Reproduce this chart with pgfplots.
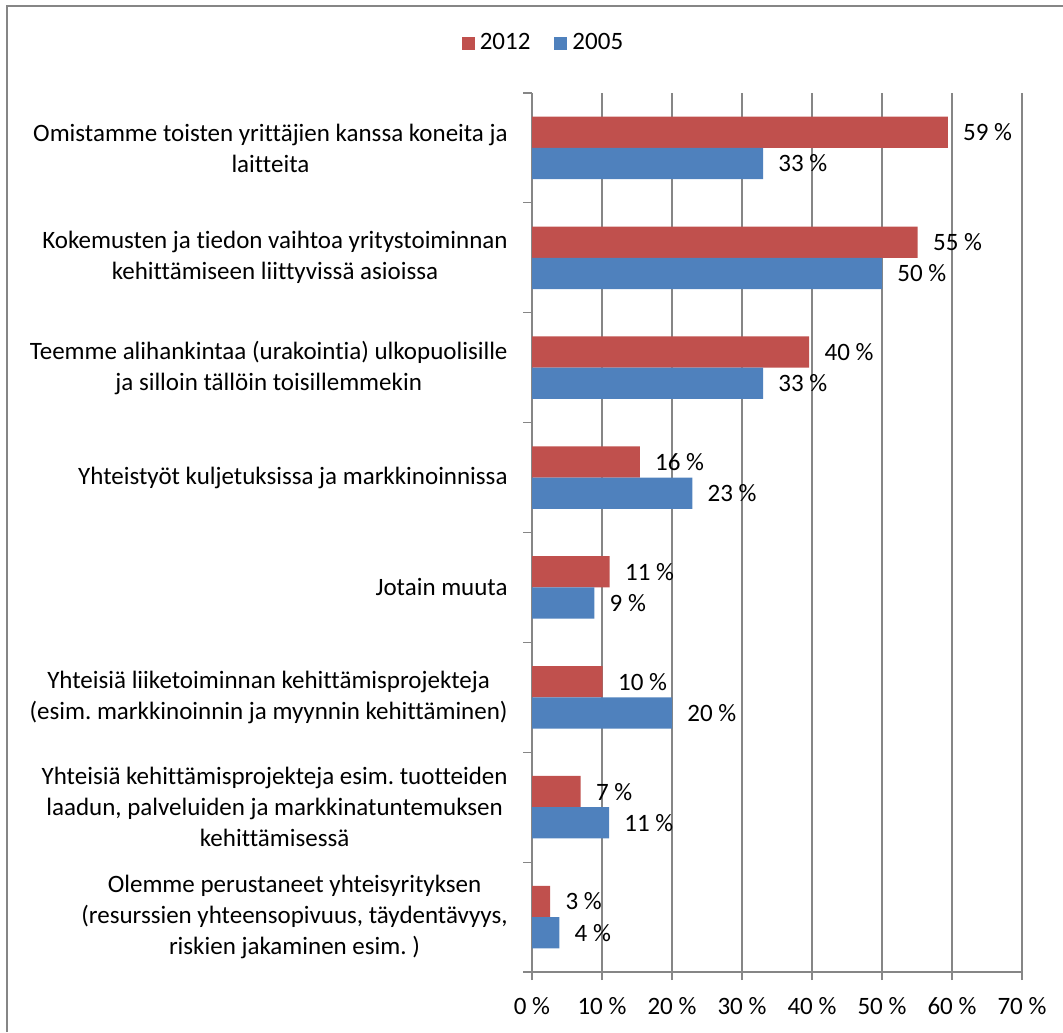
\documentclass[border=0pt]{standalone}
\usepackage{fontspec}
\setmainfont{Carlito}[Ligatures=NoCommon]
\usepackage{pgfplots}
\pgfplotsset{compat=1.18}
\definecolor{red12}{RGB}{192,80,77}
\definecolor{blue05}{RGB}{79,129,189}
\definecolor{gridgray}{RGB}{134,134,134}

\begin{document}
\frenchspacing
\begin{tikzpicture}[font=\fontsize{12.5pt}{15.5pt}\selectfont\frenchspacing]
\useasboundingbox (0,0) rectangle (531.5pt,516pt);
\draw[gridgray, line width=1pt] (3.5pt,0) -- (3.5pt,513pt) -- (531.5pt,513pt);
\begin{axis}[
  at={(266pt,30pt)}, anchor=south west,
  scale only axis, width=245pt, height=439.5pt,
  xbar, bar width=15.65pt,
  xmin=0, xmax=70, ymin=-0.5, ymax=7.5,
  axis x line=bottom, axis y line=left,
  axis line style={-, gridgray, line width=0.6pt},
  tick align=outside,
  major tick length=4pt, minor tick length=4.5pt,
  tick style={gridgray, line width=0.6pt},
  every major y tick/.append style={draw=none},
  xtick={0,10,...,70},
  xticklabels={0 \%,10 \%,20 \%,30 \%,40 \%,50 \%,60 \%,70 \%},
  xmajorgrids, major grid style={gridgray, line width=0.6pt},
  ytick={0,...,7},
  minor ytick={-0.5,0.5,...,7.5},
  yticklabels={
    {Olemme perustaneet yhteisyrityksen\\(resurssien yhteensopivuus, täydentävyys,\\riskien jakaminen esim. )},
    {Yhteisiä kehittämisprojekteja esim. tuotteiden\\laadun, palveluiden ja markkinatuntemuksen\\kehittämisessä},
    {Yhteisiä liiketoiminnan kehittämisprojekteja\\(esim. markkinoinnin ja myynnin kehittäminen)},
    {Jotain muuta},
    {Yhteistyöt kuljetuksissa ja markkinoinnissa},
    {Teemme alihankintaa (urakointia) ulkopuolisille\\ja silloin tällöin toisillemmekin},
    {Kokemusten ja tiedon vaihtoa yritystoiminnan\\kehittämiseen liittyvissä asioissa},
    {Omistamme toisten yrittäjien kanssa koneita ja\\laitteita}},
  yticklabel style={align=center, anchor=east, inner sep=0pt, xshift=-8pt},
  xticklabel style={anchor=north, inner sep=0pt, yshift=-8.5pt},
  every node near coord/.append style={anchor=west, inner sep=0pt, xshift=7.5pt, black},
  legend style={at={(0.0265,1.0568)}, anchor=center, draw=none, fill=none,
    legend columns=2, /tikz/every even column/.append style={column sep=9.5pt},
    nodes={inner sep=2.5pt}},
]
\addplot[fill=red12, draw=none, bar shift=7.8pt, nodes near coords, point meta=explicit symbolic,
  legend image code/.code={\fill[red12] (0pt,-3.25pt) rectangle (6.5pt,3.25pt);}]
  coordinates {(59.4,7) [59 \%] (55.1,6) [55 \%] (39.6,5) [40 \%] (15.4,4) [16 \%]
               (11.1,3) [11 \%] (10.1,2) [10 \%] (6.95,1) [7 \%] (2.6,0) [3 \%]};
\addlegendentry{2012}
\addplot[fill=blue05, draw=none, bar shift=-7.8pt, nodes near coords, point meta=explicit symbolic,
  legend image code/.code={\fill[blue05] (0pt,-3.25pt) rectangle (6.5pt,3.25pt);}]
  coordinates {(33,7) [33 \%] (50,6) [50 \%] (33,5) [33 \%] (22.9,4) [23 \%]
               (8.9,3) [9 \%] (20,2) [20 \%] (11,1) [11 \%] (3.9,0) [4 \%]};
\addlegendentry{2005}
\end{axis}
\end{tikzpicture}
\end{document}
